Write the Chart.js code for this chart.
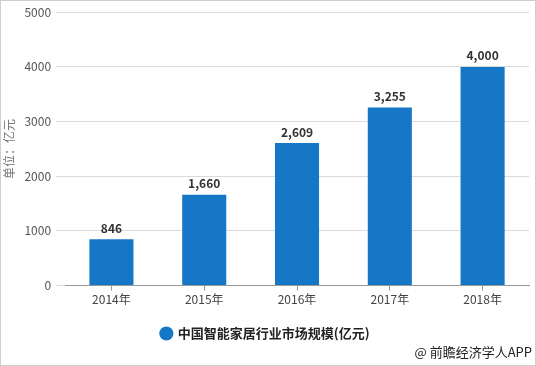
<!DOCTYPE html>
<html>
<head>
<meta charset="utf-8">
<script src="https://cdn.jsdelivr.net/npm/chart.js@4"></script>
<style>
  html, body { margin: 0; padding: 0; background: #fff; }
  #wrap { position: relative; width: 536px; height: 366px; }
</style>
</head>
<body>
<div id="wrap"><canvas id="myChart" width="536" height="366"></canvas></div>
<script>
// 中国智能家居行业市场规模
const years = ['2014年', '2015年', '2016年', '2017年', '2018年'];
const scale = [846, 1660, 2609, 3255, 4000];
const seriesName = '中国智能家居行业市场规模(亿元)';
const yTitle = '单位：亿元';
const source = '@ 前瞻经济学人APP';

const FONT = '"Microsoft YaHei", "Noto Sans CJK SC", sans-serif';

// border, bar value labels and source line
const extras = {
    id: 'extras',
    beforeDraw(chart) {
        const c = chart.ctx;
        c.save();
        c.fillStyle = '#fff';
        c.fillRect(0, 0, chart.width, chart.height);
        c.restore();
    },
    afterDraw(chart) {
        const c = chart.ctx;
        c.save();
        c.strokeStyle = '#cfcfcf';
        c.lineWidth = 1;
        c.strokeRect(0.5, 0.5, chart.width - 1, chart.height - 1);

        const meta = chart.getDatasetMeta(0);
        c.font = 'bold 12px ' + FONT;
        c.fillStyle = '#333';
        c.textAlign = 'center';
        c.textBaseline = 'bottom';
        meta.data.forEach((bar, i) => {
            c.fillText(scale[i].toLocaleString('en-US'), bar.x, bar.y - 5);
        });

        c.font = '13px ' + FONT;
        c.fillStyle = '#222';
        c.textAlign = 'right';
        c.textBaseline = 'middle';
        c.fillText(source, chart.width - 4, 352);
        c.restore();
    }
};

const ctx = document.getElementById('myChart').getContext('2d');
const myChart = new Chart(ctx, {
    type: 'bar',
    data: {
        labels: years,
        datasets: [{
            label: seriesName,
            data: scale,
            backgroundColor: '#1677c7',
            borderWidth: 0,
            categoryPercentage: 1,
            barPercentage: 0.475
        }]
    },
    options: {
        responsive: false,
        animation: false,
        layout: { padding: { top: 9, right: 7, bottom: 16, left: 2 } },
        plugins: {
            legend: {
                position: 'bottom',
                labels: {
                    usePointStyle: true,
                    pointStyle: 'circle',
                    boxWidth: 10,
                    boxHeight: 10,
                    padding: 14,
                    color: '#222',
                    font: { family: FONT, size: 13, weight: 'bold' }
                }
            },
            tooltip: { enabled: false }
        },
        scales: {
            x: {
                grid: {
                    offset: false,
                    drawOnChartArea: false,
                    tickLength: 5,
                    color: '#999'
                },
                border: { color: '#999' },
                ticks: { color: '#444', padding: 2, font: { family: FONT, size: 12 } },
                afterFit(s) { s.height += 4; }
            },
            y: {
                min: 0,
                max: 5000,
                ticks: {
                    stepSize: 1000,
                    color: '#555',
                    padding: 5,
                    font: { family: FONT, size: 12 },
                    callback: v => String(v)
                },
                grid: { color: '#dadada', tickLength: 9 },
                border: { display: false },
                title: {
                    display: true,
                    text: yTitle,
                    color: '#777',
                    padding: { top: 0, bottom: 3 },
                    font: { family: FONT, size: 12 }
                }
            }
        }
    },
    plugins: [extras]
});
</script>
</body>
</html>
